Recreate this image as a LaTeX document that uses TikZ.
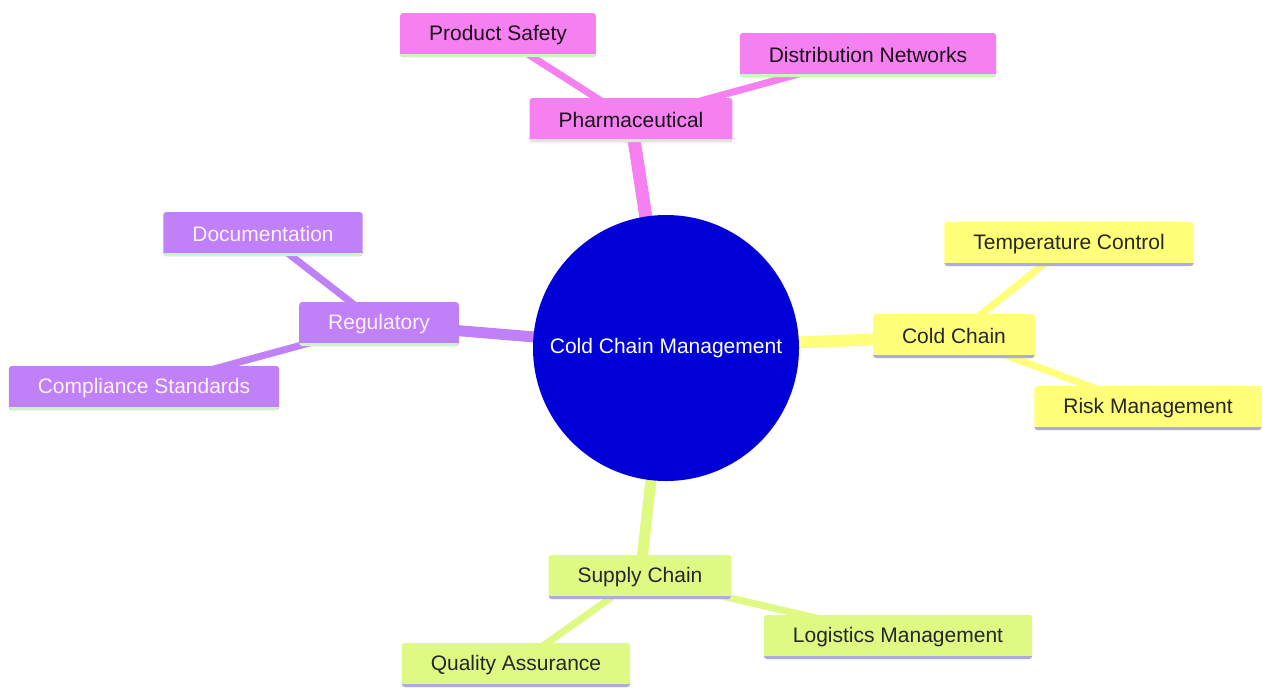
\documentclass[tikz,border=0pt]{standalone}
\usepackage{fontspec}
\setmainfont{Liberation Sans}
\usepackage{xcolor}
\usetikzlibrary{positioning}
\usetikzlibrary{backgrounds}

\definecolor{rootfill}{RGB}{0,0,215}
\definecolor{pharmafill}{RGB}{245,128,240}
\definecolor{regfill}{RGB}{192,128,248}
\definecolor{coldfill}{RGB}{255,255,122}
\definecolor{supplyfill}{RGB}{222,250,130}
\definecolor{greenline}{RGB}{205,245,190}
\definecolor{lilacline}{RGB}{175,170,225}

\begin{document}
\begin{tikzpicture} [
       x=1pt, y=-1pt,
       auto,
       root/.style={circle, fill=rootfill, text=white, minimum size=266pt,
               inner sep=0pt, font=\fontsize{21}{25}\selectfont},
       topic/.style={rectangle, rounded corners=3pt, minimum height=44pt,
               inner xsep=29pt, font=\fontsize{21}{25}\selectfont},
       under/.style={path picture={\draw[#1, line width=6pt]
               (path picture bounding box.south west) --
               (path picture bounding box.south east);}},
       pharmabox/.style={topic, fill=pharmafill, text={black!70!pharmafill!40!black}, under=greenline},
       regbox/.style={topic, fill=regfill, text={white!90!pharmafill}, under=greenline},
       coldbox/.style={topic, fill=coldfill, text={black!85}, under=lilacline},
       supplybox/.style={topic, fill=supplyfill, text={black!85}, under=lilacline},
       line/.style={draw, line cap=butt},
       ]
       \useasboundingbox (0,0) rectangle (1263,689);
       \node (root) [root] at (666,348) {Cold Chain Management};
       \node (pharma) [pharmabox] at (631,120) {Pharmaceutical};
       \node (safety) [pharmabox] at (498,35) {Product Safety};
       \node (network) [pharmabox] at (868,55) {Distribution Networks};
       \node (reg) [regbox] at (379,324) {Regulatory};
       \node (docs) [regbox] at (263,234) {Documentation};
       \node (comply) [regbox] at (144,388) {Compliance Standards};
       \node (cold) [coldbox] at (954,336) {Cold Chain};
       \node (temp) [coldbox] at (1069,244) {Temperature Control};
       \node (risk) [coldbox] at (1148,408) {Risk Management};
       \node (supply) [supplybox] at (640,577) {Supply Chain};
       \node (quality) [supplybox] at (516,665) {Quality Assurance};
       \node (logistics) [supplybox] at (898,637) {Logistics Management};
        \begin{scope}[on background layer, every path/.style=line]
        \path[pharmafill, line width=13pt] (root.center) -- (pharma.center);
        \path[regfill, line width=11pt] (root.center) -- (reg.center);
        \path[coldfill, line width=12pt] (root.center) -- (cold.center);
        \path[supplyfill, line width=11pt] (root.center) -- (supply.center);
        \path[pharmafill, line width=7pt] (pharma.center) -- (safety.center);
        \path[pharmafill, line width=7pt] (pharma.center) -- (network.center);
        \path[regfill, line width=7pt] (reg.center) -- (docs.center);
        \path[regfill, line width=7pt] (reg.center) -- (comply.center);
        \path[coldfill, line width=7pt] (cold.center) -- (temp.center);
        \path[coldfill, line width=7pt] (cold.center) -- (risk.center);
        \path[supplyfill, line width=7pt] (supply.center) -- (quality.center);
        \path[supplyfill, line width=7pt] (supply.center) -- (logistics.center);
\end{scope}
\end{tikzpicture}
\end{document}
